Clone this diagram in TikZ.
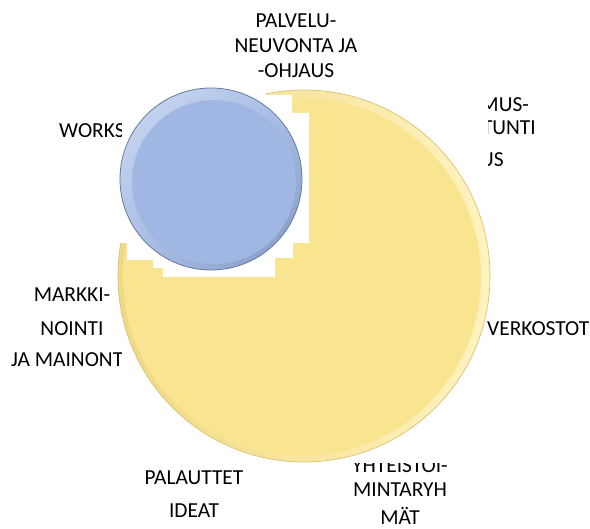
\documentclass[tikz,border=0pt]{standalone}
\usepackage{fontspec}
\setmainfont{Carlito}
\usetikzlibrary{shadings}
\definecolor{ymain}{HTML}{F9E48F}
\definecolor{ydark}{HTML}{F0D984}
\definecolor{ylight}{HTML}{FFF3C0}
\definecolor{yline}{HTML}{D8C272}
\definecolor{blight}{HTML}{CDDAF1}
\definecolor{bmid}{HTML}{A9BFE6}
\definecolor{bdark}{HTML}{8298C2}
\definecolor{bmain}{HTML}{9FB7E2}
\definecolor{bline}{HTML}{66799F}
\begin{document}
\begin{tikzpicture}[x=1pt,y=-1pt,
  lbl/.style={inner sep=0pt, anchor=base, font=\fontsize{21.4}{25}\selectfont, text=black},
  lblw/.style={lbl, anchor=base west},
  lble/.style={lbl, anchor=base east}]
\useasboundingbox (0,0) rectangle (590,529);
% large yellow disc
\shade[left color=ydark, right color=ylight] (304,276) circle (186);
\fill[ymain] (302,277) circle (179);
\draw[yline, line width=0.7pt] (304,276) circle (186);
% white stepped cut-out
\fill[white] (110,85) -- (265,85) -- (265,95) -- (292,95) -- (292,113) -- (309,113)
  -- (309,243) -- (293,243) -- (293,258) -- (275,258) -- (275,277) -- (163,277)
  -- (163,268) -- (153,268) -- (153,260) -- (127,260) -- (127,243) -- (110,243) -- cycle;
% small blue disc
\shade[upper left=blight, upper right=bmid, lower left=bmid, lower right=bdark] (211,179) circle (91);
\fill[bmain] (214,182) circle (82);
\draw[bline, line width=0.8pt] (211,179) circle (91);
% labels
\node[lbl] (p1) at (296,28) {PALVELU-};
\node[lbl] (p2) at (296,53) {NEUVONTA JA};
\node[lbl] (p3) at (296,78) {-OHJAUS};
\begin{scope}
  \clip (0,0) rectangle (121,529);
  \node[lblw] (w1) at (59,138) {WORKS};
  \node[lblw] (m3) at (11,367) {JA MAINONT};
\end{scope}
\begin{scope}
  \clip (488,0) rectangle (590,529);
  \node[lble] (t1) at (529,112) {MUS-};
  \node[lble] (t2) at (536,135) {TUNTI};
  \node[lble] (t3) at (504,167) {US};
\end{scope}
\node[lbl] (m1) at (72,302) {MARKKI-};
\node[lbl] (m2) at (72,336) {NOINTI};
\node[lblw] (v1) at (487,336) {VERKOSTOT};
\node[lbl] (i1) at (194,485) {PALAUTTET};
\node[lbl] (i2) at (194,518) {IDEAT};
\begin{scope}
  \clip (300,464) rectangle (500,529);
  \node[lbl] (y1) at (400,473) {YHTEISTOI-};
\end{scope}
\node[lbl] (y2) at (400,497) {MINTARYH};
\node[lbl] (y3) at (400,525) {MÄT};
\end{tikzpicture}
\end{document}
